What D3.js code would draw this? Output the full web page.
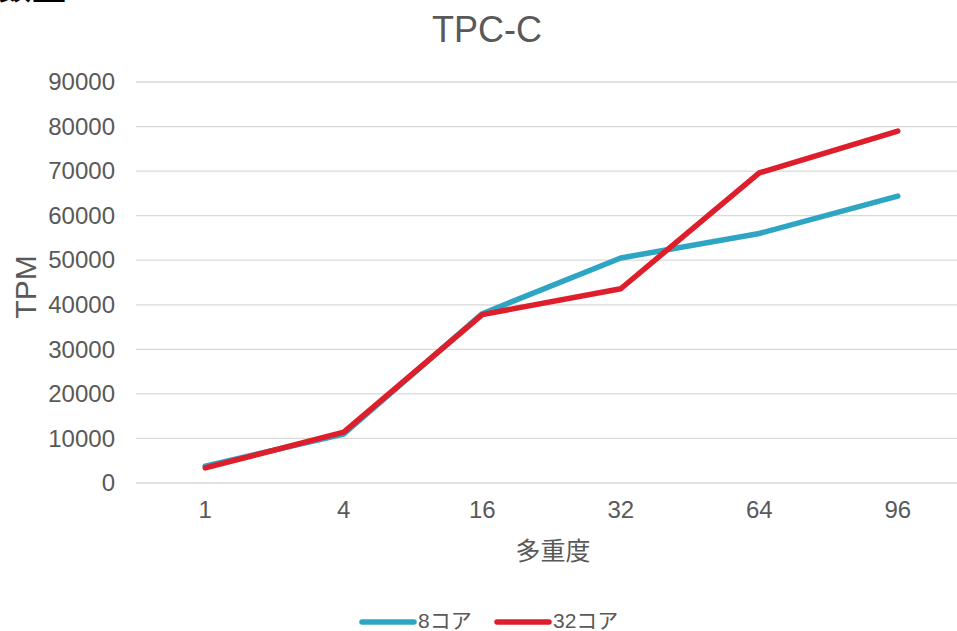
<!DOCTYPE html>
<html>
<head>
<meta charset="utf-8">
<script src="https://cdn.jsdelivr.net/npm/d3@7/dist/d3.min.js"></script>
<style>
  html, body { margin: 0; padding: 0; background: #fff; overflow: hidden; }
  svg { display: block; font-family: "Liberation Sans", Arial, "Noto Sans CJK JP", sans-serif; }
</style>
</head>
<body>
<svg id="chart" width="957" height="631"></svg>
<script>
// Concurrency levels (x categories) and throughput per core count
const categories = ["1", "4", "16", "32", "64", "96"];
const series8 = [3800, 11000, 38000, 50500, 56000, 64400];
const series32 = [3400, 11400, 37800, 43600, 69600, 79000];
const yTicks = [0, 10000, 20000, 30000, 40000, 50000, 60000, 70000, 80000, 90000];
const seriesNames = ["8コア", "32コア"];
const seriesColors = ["#2EA6C3", "#DE1F2B"];

const svg = d3.select("#chart");
const textColor = "#595959";
const plotLeft = 136, plotRight = 967, plotTop = 82, plotBottom = 483;

const x = d3.scaleBand().domain(categories).range([plotLeft, plotRight]);
const y = d3.scaleLinear().domain([0, 90000]).range([plotBottom, plotTop]);

// Heading fragment at the very top edge
svg.append("text")
  .attr("x", -2).attr("y", -1)
  .attr("font-family", "'Noto Sans CJK JP'")
  .attr("font-weight", "bold").attr("font-size", 34)
  .attr("fill", "#000")
  .text("数量");

// Title
svg.append("text")
  .attr("x", 487).attr("y", 42)
  .attr("text-anchor", "middle")
  .attr("font-size", 36).attr("fill", textColor)
  .text("TPC-C");

// Gridlines
svg.append("g").selectAll("line").data(yTicks).join("line")
  .attr("x1", plotLeft).attr("x2", plotRight)
  .attr("y1", d => y(d)).attr("y2", d => y(d))
  .attr("stroke", "#d9d9d9").attr("stroke-width", 1.3);

// Y axis labels
const yAxis = d3.axisLeft(y).tickValues(yTicks).tickSize(0).tickPadding(0).tickFormat(d3.format("d"));
svg.append("g").attr("transform", `translate(115,0)`).call(yAxis)
  .call(g => g.select(".domain").remove())
  .call(g => g.selectAll("text").attr("font-size", 24).attr("fill", textColor)
    .attr("font-family", "'Liberation Sans', Arial, sans-serif"));

// X axis labels
const xAxis = d3.axisBottom(x).tickSize(0).tickPadding(0);
svg.append("g").attr("transform", `translate(0,501)`).call(xAxis)
  .call(g => g.select(".domain").remove())
  .call(g => g.selectAll("text").attr("font-size", 24).attr("fill", textColor)
    .attr("font-family", "'Liberation Sans', Arial, sans-serif"));

// Axis titles
svg.append("text")
  .attr("transform", "translate(36,287) rotate(-90)")
  .attr("text-anchor", "middle")
  .attr("font-size", 30).attr("fill", textColor)
  .text("TPM");
svg.append("text")
  .attr("x", 553).attr("y", 560)
  .attr("text-anchor", "middle")
  .attr("font-family", "'Noto Sans CJK JP'")
  .attr("font-size", 25).attr("fill", textColor)
  .text("多重度");

// Lines
const line = d3.line()
  .x((d, i) => x(categories[i]) + x.bandwidth() / 2)
  .y(d => y(d));

[series8, series32].forEach((s, i) => {
  svg.append("path")
    .datum(s)
    .attr("d", line)
    .attr("fill", "none")
    .attr("stroke", seriesColors[i])
    .attr("stroke-width", 5.5)
    .attr("stroke-linecap", "round")
    .attr("stroke-linejoin", "round");
});

// Legend
const legendItems = [
  { x1: 362, x2: 414, tx: 418 },
  { x1: 497, x2: 549, tx: 553 }
];
legendItems.forEach((p, i) => {
  svg.append("line")
    .attr("x1", p.x1).attr("x2", p.x2)
    .attr("y1", 622).attr("y2", 622)
    .attr("stroke", seriesColors[i]).attr("stroke-width", 5.5)
    .attr("stroke-linecap", "round");
  svg.append("text")
    .attr("x", p.tx).attr("y", 628)
    .attr("font-family", "'Liberation Sans', Arial, 'Noto Sans CJK JP', sans-serif")
    .attr("font-size", 21).attr("fill", textColor)
    .text(seriesNames[i]);
});
</script>
</body>
</html>
